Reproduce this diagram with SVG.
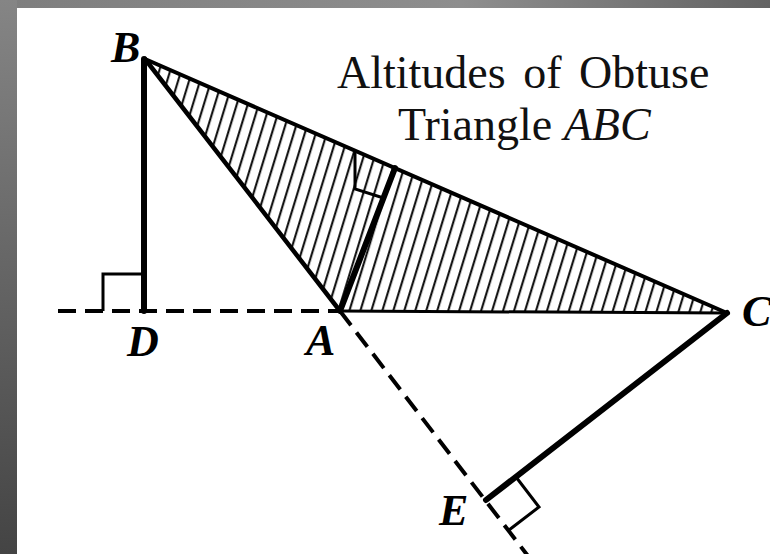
<svg xmlns="http://www.w3.org/2000/svg" width="770" height="554" viewBox="0 0 770 554">
  <defs>
    <linearGradient id="gTop" x1="0" y1="0" x2="1" y2="0">
      <stop offset="0" stop-color="#7e7e7e"/>
      <stop offset="0.6" stop-color="#8e8e8e"/>
      <stop offset="1" stop-color="#636363"/>
    </linearGradient>
    <linearGradient id="gLeft" x1="0" y1="0" x2="0" y2="1">
      <stop offset="0" stop-color="#858585"/>
      <stop offset="1" stop-color="#444444"/>
    </linearGradient>
    <pattern id="hatch" patternUnits="userSpaceOnUse" width="10.5" height="10" patternTransform="rotate(17)">
      <line x1="5" y1="-1" x2="5" y2="11" stroke="#000" stroke-width="2"/>
    </pattern>
  </defs>
  <style>
    .lbl { font-family: "Liberation Serif", "Times New Roman", serif; font-weight: bold; font-style: italic; font-size: 44px; fill: #000; }
    .title { font-family: "Liberation Serif", "Times New Roman", serif; font-size: 46px; fill: #111; }
    .solid { stroke: #000; fill: none; stroke-linecap: round; stroke-linejoin: round; }
    .dash { stroke: #000; fill: none; stroke-width: 4; stroke-dasharray: 18 9; }
    .sq { stroke: #000; fill: none; stroke-width: 3; }
  </style>

  <rect x="0" y="0" width="770" height="554" fill="#ffffff"/>
  <rect x="0" y="0" width="770" height="8" fill="url(#gTop)"/>
  <rect x="0" y="0" width="17" height="554" fill="url(#gLeft)"/>

  <g id="triangle">
    <polygon points="145,59 340,311 727,313" fill="url(#hatch)"/>
  </g>

  <g id="connectors">
    <line class="dash" x1="58" y1="311" x2="340" y2="311"/>
    <line class="dash" x1="340" y1="311" x2="528" y2="556" stroke-dasharray="15 9"/>
    <line class="solid" x1="145" y1="59" x2="340" y2="311" stroke-width="4.5"/>
    <line class="solid" x1="145" y1="59" x2="727" y2="313" stroke-width="4"/>
    <line class="solid" x1="340" y1="311" x2="727" y2="313" stroke-width="3"/>
    <line class="solid" x1="144" y1="59" x2="144" y2="311" stroke-width="6"/>
    <line class="solid" x1="340" y1="311" x2="395" y2="168" stroke-width="6"/>
    <line class="solid" x1="727" y1="313" x2="486" y2="500" stroke-width="6"/>
    <polyline class="sq" points="144,274 103,274 103,311"/>
    <polyline class="sq" points="355,151 355,189 383.5,198"/>
    <polyline class="sq" points="516,477 539,507 509,530"/>
  </g>

  <g id="title">
    <text class="title" x="337" y="88" word-spacing="6">Altitudes of Obtuse</text>
    <text class="title" x="398" y="140">Triangle <tspan font-style="italic">ABC</tspan></text>
  </g>

  <g id="node-B"><text class="lbl" x="111" y="62">B</text></g>
  <g id="node-D"><text class="lbl" x="127" y="356">D</text></g>
  <g id="node-A"><text class="lbl" x="306" y="355">A</text></g>
  <g id="node-C"><text class="lbl" x="742" y="326">C</text></g>
  <g id="node-E"><text class="lbl" x="439" y="525">E</text></g>
</svg>
